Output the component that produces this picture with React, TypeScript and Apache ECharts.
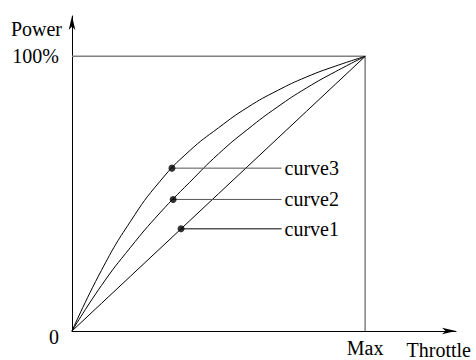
import React, { useEffect, useRef } from "react";
import * as echarts from "echarts";

// throttle (%) -> power (%)
const throttle = [0, 10, 20, 30, 40, 50, 60, 70, 80, 90, 100];
const curve1Values = [0, 10, 20, 30, 40, 50, 60, 70, 80, 90, 100];
const curve2Values = [0, 16.5, 30.5, 43, 54, 64.5, 73.5, 81.5, 88.5, 94.5, 100];
const curve3Values = [0, 22, 40, 54.5, 65.5, 74, 81.5, 87.5, 92.5, 96.5, 100];
const boxData: [number, number][] = [[0, 100], [100, 100], [100, 0]];
const curveNames = ["curve3", "curve2", "curve1"];
const markerPoints: [number, number][] = [[34.1, 59.3], [34.5, 47.9], [37.2, 37.2]];
const labelX = 71.5;
const xTickLabels: Record<number, string> = { 100: "Max" };
const yTickLabels: Record<number, string> = { 0: "{z|0}", 100: "100%" };

const FONT = "Liberation Serif";

const pairs = (vals: number[]) => throttle.map((t, i) => [t, vals[i]]);

export default function App() {
  const ref = useRef<HTMLDivElement>(null);
  useEffect(() => {
    if (!ref.current) return;
    const chart = echarts.init(ref.current, null, { renderer: "svg" });
    const leaderSeries = markerPoints.map((p, i) => ({
      type: "line",
      data: [p, [labelX, p[1]]],
      symbol: "none",
      lineStyle: { color: i === 2 ? "#000" : "#555", width: 1 },
      endLabel: {
        show: true,
        formatter: curveNames[i],
        distance: 3,
        color: "#000",
        fontFamily: FONT,
        fontSize: 20,
      },
      z: 3,
    }));
    chart.setOption({
      animation: false,
      backgroundColor: "#fff",
      textStyle: { fontFamily: FONT },
      grid: { left: 72, right: 20, top: 16, bottom: 25 },
      xAxis: {
        type: "value",
        min: 0,
        max: 131,
        interval: 100,
        splitLine: { show: false },
        axisTick: { show: false },
        axisLine: {
          show: true,
          symbol: ["none", "arrow"],
          symbolSize: [5, 14],
          lineStyle: { color: "#000", width: 1 },
        },
        axisLabel: {
          show: true,
          margin: 7,
          color: "#000",
          fontFamily: FONT,
          fontSize: 20,
          showMinLabel: true,
          showMaxLabel: true,
          formatter: (v: number) => xTickLabels[v] ?? "",
        },
        name: "Throttle",
        nameLocation: "end",
        nameGap: 15,
        nameTextStyle: {
          color: "#000",
          fontFamily: FONT,
          fontSize: 20,
          align: "right",
          verticalAlign: "top",
          padding: [9, 0, 0, 0],
        },
      },
      yAxis: {
        type: "value",
        min: 0,
        max: 114.7,
        interval: 100,
        splitLine: { show: false },
        axisTick: { show: false },
        axisLine: {
          show: true,
          symbol: ["none", "arrow"],
          symbolSize: [5, 14],
          lineStyle: { color: "#000", width: 1 },
        },
        axisLabel: {
          show: true,
          margin: 13,
          color: "#000",
          fontFamily: FONT,
          fontSize: 20,
          formatter: (v: number) => yTickLabels[v] ?? "",
          rich: {
            z: {
              color: "#000",
              fontFamily: FONT,
              fontSize: 20,
              padding: [12, 0, 0, 0],
            },
          },
        },
        name: "Power",
        nameLocation: "end",
        nameGap: -13,
        nameTextStyle: {
          color: "#000",
          fontFamily: FONT,
          fontSize: 20,
          align: "right",
          verticalAlign: "middle",
          padding: [0, 10, 0, 0],
        },
      },
      series: [
        {
          type: "line",
          data: boxData,
          symbol: "none",
          lineStyle: { color: "#808080", width: 1.5 },
          z: 1,
        },
        {
          type: "line",
          data: pairs(curve1Values),
          symbol: "none",
          lineStyle: { color: "#000", width: 1 },
          z: 2,
        },
        {
          type: "line",
          data: pairs(curve2Values),
          symbol: "none",
          smooth: 0.5,
          lineStyle: { color: "#000", width: 1 },
          z: 2,
        },
        {
          type: "line",
          data: pairs(curve3Values),
          symbol: "none",
          smooth: 0.5,
          lineStyle: { color: "#000", width: 1 },
          z: 2,
        },
        ...leaderSeries,
        {
          type: "scatter",
          data: markerPoints,
          symbol: "circle",
          symbolSize: 7,
          itemStyle: { color: "#000" },
          z: 4,
        },
      ],
    });
    return () => chart.dispose();
  }, []);
  return <div ref={ref} style={{ width: 476, height: 360, position: "fixed", left: 0, top: 0 }} />;
}
